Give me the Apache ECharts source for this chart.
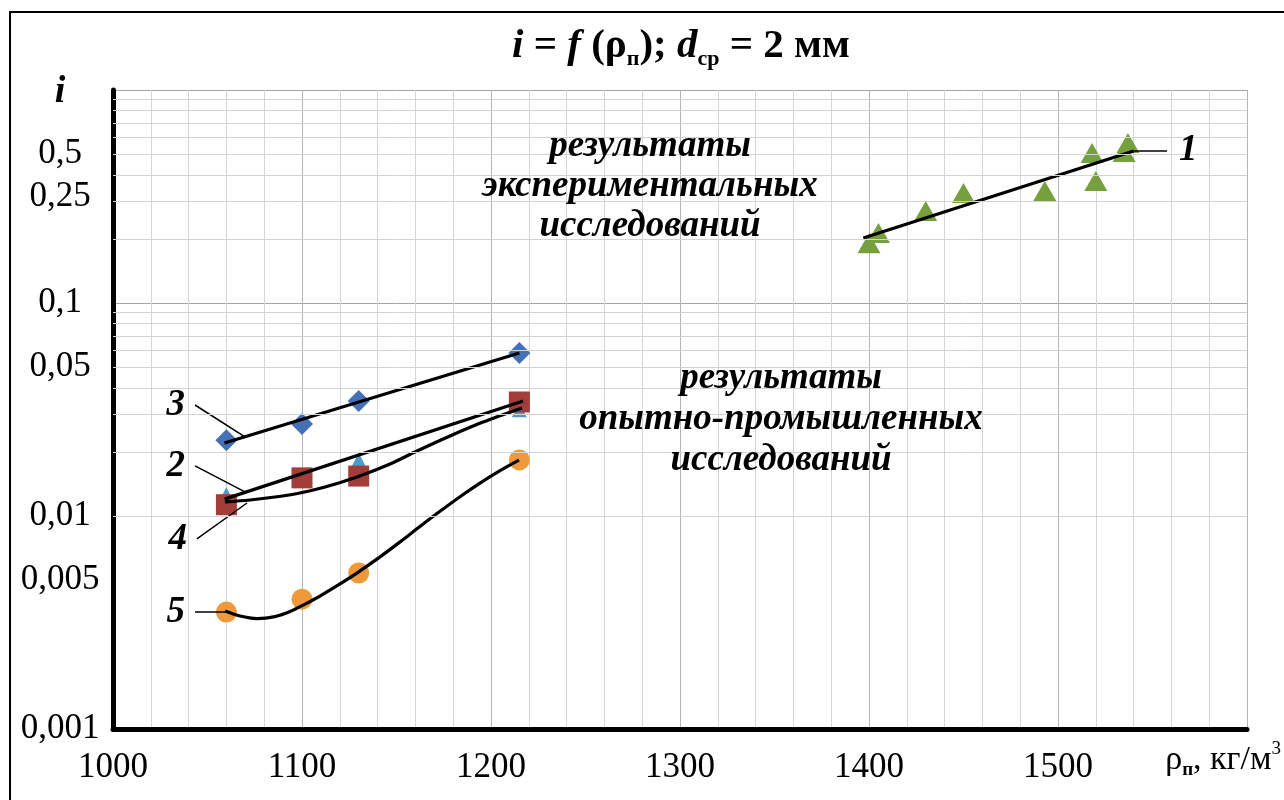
<!DOCTYPE html>
<html><head><meta charset="utf-8">
<script src="https://cdn.jsdelivr.net/npm/echarts@6/dist/echarts.min.js"></script>
<style>html,body{margin:0;padding:0;background:#fff}#c{width:1284px;height:800px}</style>
</head><body><div id="c"></div>
<script>
// ---- data ----
const densityLow = [1060, 1100, 1130, 1215];
const series3 = [0.0227, 0.0270, 0.0347, 0.0582];   // diamonds
const series2 = [0.0113, 0.0151, 0.0154, 0.0343];   // squares
const series4 = [0.0126, 0.0150, 0.0183, 0.0315];   // light-blue triangles
const series5 = [0.00354, 0.00407, 0.00540, 0.01833]; // circles
const series1X = [1400, 1405, 1430, 1450, 1493, 1518, 1520, 1535, 1537];
const series1Y = [0.191, 0.213, 0.270, 0.328, 0.336, 0.506, 0.374, 0.511, 0.564];

// trend curves
const trend1X = [1397, 1540];            const trend1Y = [0.2018, 0.5176];
const trend3X = [1059, 1215];            const trend3Y = [0.0220, 0.0582];
const trend2X = [1059, 1217];            const trend2Y = [0.0120, 0.0347];
const trend4X = [1059.3, 1072.5, 1085.7, 1098.9, 1112.2, 1129.1, 1146.6, 1160.8, 1178.3, 1195.8, 1216.4];
const trend4Y = [0.01164, 0.01189, 0.01228, 0.01283, 0.01368, 0.01525, 0.01754, 0.02018, 0.02376, 0.02761, 0.03216];
const trend5X = [1059.3, 1067.2, 1076.2, 1085.7, 1093.7, 1101.6, 1109.5, 1120.1, 1129.6, 1141.3, 1151.9, 1162.4, 1173.0, 1183.6, 1194.2, 1204.8, 1214.8];
const trend5Y = [0.00358, 0.00339, 0.00330, 0.00337, 0.00356, 0.00386, 0.00421, 0.00480, 0.00544, 0.00643, 0.00756, 0.00893, 0.01052, 0.01232, 0.01427, 0.01632, 0.01828];

// curve labels and their leader lines (start point -> end point)
const curveLabels = ['1', '3', '2', '4', '5'];
const leaderX = [[1557.7, 1540], [1043.4, 1069.8], [1043.4, 1069.8], [1044.4, 1070.9], [1043.4, 1059.3]];
const leaderY = [[0.5176, 0.5176], [0.0332, 0.0235], [0.01718, 0.01297], [0.0078, 0.01151], [0.00354, 0.00354]];

// axis ticks
const yTickValues = [0.001, 0.005, 0.01, 0.05, 0.1, 0.315, 0.5];
const yTickLabels = ['0,001', '0,005', '0,01', '0,05', '0,1', '0,25', '0,5'];
const yMinorGrid = [0.002,0.003,0.004,0.005,0.006,0.007,0.008,0.009,
                    0.02,0.03,0.04,0.05,0.06,0.07,0.08,0.09,
                    0.2,0.3,0.4,0.5,0.6,0.7,0.8,0.9];
const xMin = 1000, xMax = 1600, xStep = 100;

const FONT = 'Liberation Serif';
const zip = (xs, ys) => xs.map((x, i) => [x, ys[i]]);

const chart = echarts.init(document.getElementById('c'));
const trendStyle = { color: '#000', width: 3.2 };

const series = [
  { type: 'line', data: [], z: 1, silent: true,
    markLine: { silent: true, symbol: 'none', animation: false,
      label: { show: false },
      lineStyle: { color: '#d3d3d3', width: 1, type: 'solid' },
      data: yMinorGrid.map(v => ({ yAxis: v })) } },
  { type: 'scatter', data: zip(series1X, series1Y), symbol: 'triangle', symbolSize: [23, 20],
    itemStyle: { color: '#76A03E', opacity: 1 }, z: 3 },
  { type: 'scatter', data: zip(densityLow, series4), symbol: 'triangle', symbolSize: [15, 15],
    itemStyle: { color: '#4E9BCB', opacity: 1 }, z: 3 },
  { type: 'scatter', data: zip(densityLow, series2), symbol: 'rect', symbolSize: 21,
    itemStyle: { color: '#A33D3A', opacity: 1 }, z: 3 },
  { type: 'scatter', data: zip(densityLow, series3), symbol: 'diamond', symbolSize: 22,
    itemStyle: { color: '#4570B6', opacity: 1 }, z: 3 },
  { type: 'scatter', data: zip(densityLow, series5), symbol: 'circle', symbolSize: 21,
    itemStyle: { color: '#EE9A3A', opacity: 1 }, z: 3 },
  { type: 'line', data: zip(trend1X, trend1Y), showSymbol: false, lineStyle: trendStyle, z: 4 },
  { type: 'line', data: zip(trend3X, trend3Y), showSymbol: false, lineStyle: trendStyle, z: 4 },
  { type: 'line', data: zip(trend2X, trend2Y), showSymbol: false, lineStyle: trendStyle, z: 4 },
  { type: 'line', data: zip(trend4X, trend4Y), showSymbol: false, smooth: 0.3, lineStyle: trendStyle, z: 4 },
  { type: 'line', data: zip(trend5X, trend5Y), showSymbol: false, smooth: 0.3, lineStyle: trendStyle, z: 4 }
];
leaderX.forEach((xs, i) => {
  series.push({ type: 'line', data: zip(xs, leaderY[i]), showSymbol: false,
    lineStyle: { color: '#000', width: 1.5 }, z: 4 });
});

chart.setOption({
  animation: false,
  backgroundColor: '#fff',
  grid: { left: 113, right: 37, top: 90, bottom: 71 },
  xAxis: {
    type: 'value', min: xMin, max: xMax, interval: xStep,
    axisLine: { show: true, onZero: false, lineStyle: { color: '#000', width: 5 } },
    axisTick: { show: false },
    axisLabel: { fontFamily: FONT, fontSize: 35, color: '#000', margin: 21,
      formatter: v => (v === xMax ? '' : String(v)) },
    splitLine: { show: true, lineStyle: { color: '#b4b4b4', width: 1 } },
    minorTick: { show: false, splitNumber: 5 },
    minorSplitLine: { show: true, lineStyle: { color: '#d5d5d5', width: 1 } }
  },
  yAxis: {
    type: 'log', logBase: 10, min: 0.001, max: 1,
    axisLine: { show: true, onZero: false, lineStyle: { color: '#000', width: 5 } },
    axisTick: { show: false },
    axisLabel: { fontFamily: FONT, fontSize: 35, color: '#000', margin: 53, align: 'center',
      customValues: yTickValues,
      formatter: (v) => { const k = yTickValues.findIndex(t => Math.abs(t - v) / t < 1e-6); return k >= 0 ? yTickLabels[k] : ''; } },
    splitLine: { show: true, lineStyle: { color: '#a4a4a4', width: 1 } }
  },
  series: series
});

// ---- text annotations ----
const graphics = [
  { type: 'rect', shape: { x: 10, y: 12, width: 1300, height: 820 },
    style: { fill: 'none', stroke: '#000', lineWidth: 2 }, z: 100 },
  { type: 'text', x: 681, y: 46, z: 100,
    style: { text: '{i|i}{n| = }{i|f}{n| (ρ}{s|п}{n|); }{i|d}{s|ср}{n| = 2 мм}',
      align: 'center', verticalAlign: 'middle', fill: '#000',
      rich: {
        i: { fontFamily: FONT, fontSize: 41, fontWeight: 'bold', fontStyle: 'italic', lineHeight: 48 },
        n: { fontFamily: FONT, fontSize: 41, fontWeight: 'bold', lineHeight: 48 },
        s: { fontFamily: FONT, fontSize: 22, fontWeight: 'bold', lineHeight: 22, verticalAlign: 'bottom' }
      } } },
  { type: 'text', x: 60, y: 92, z: 100,
    style: { text: 'i', font: 'italic bold 38px "Liberation Serif"', align: 'center', verticalAlign: 'middle', fill: '#000' } },
  { type: 'text', x: 650, y: 186, z: 100,
    style: { text: 'результаты\nэкспериментальных\nисследований', font: 'italic bold 37px "Liberation Serif"',
      lineHeight: 40, align: 'center', verticalAlign: 'middle', fill: '#000' } },
  { type: 'text', x: 781, y: 419, z: 100,
    style: { text: 'результаты\nопытно-промышленных\nисследований', font: 'italic bold 37px "Liberation Serif"',
      lineHeight: 41, align: 'center', verticalAlign: 'middle', fill: '#000' } },
  { type: 'text', right: 3, top: 740, z: 100,
    style: { text: '{n|ρ}{s|п}{n|, кг/м}{p|3}', fill: '#000',
      rich: {
        n: { fontFamily: FONT, fontSize: 34, lineHeight: 40 },
        s: { fontFamily: FONT, fontSize: 19, fontWeight: 'bold', lineHeight: 19, verticalAlign: 'bottom' },
        p: { fontFamily: FONT, fontSize: 19, lineHeight: 19, verticalAlign: 'top' }
      } } }
];
curveLabels.forEach((t, i) => {
  const p = chart.convertToPixel({ gridIndex: 0 }, [leaderX[i][0], leaderY[i][0]]);
  const isRight = i === 0;
  graphics.push({ type: 'text', x: isRight ? p[0] + 12 : p[0] - 10, y: p[1], z: 100,
    style: { text: t, font: 'italic bold 37px "Liberation Serif"', fill: '#000',
      align: isRight ? 'left' : 'right', verticalAlign: 'middle' } });
});
chart.setOption({ graphic: graphics });
</script>
</body></html>
